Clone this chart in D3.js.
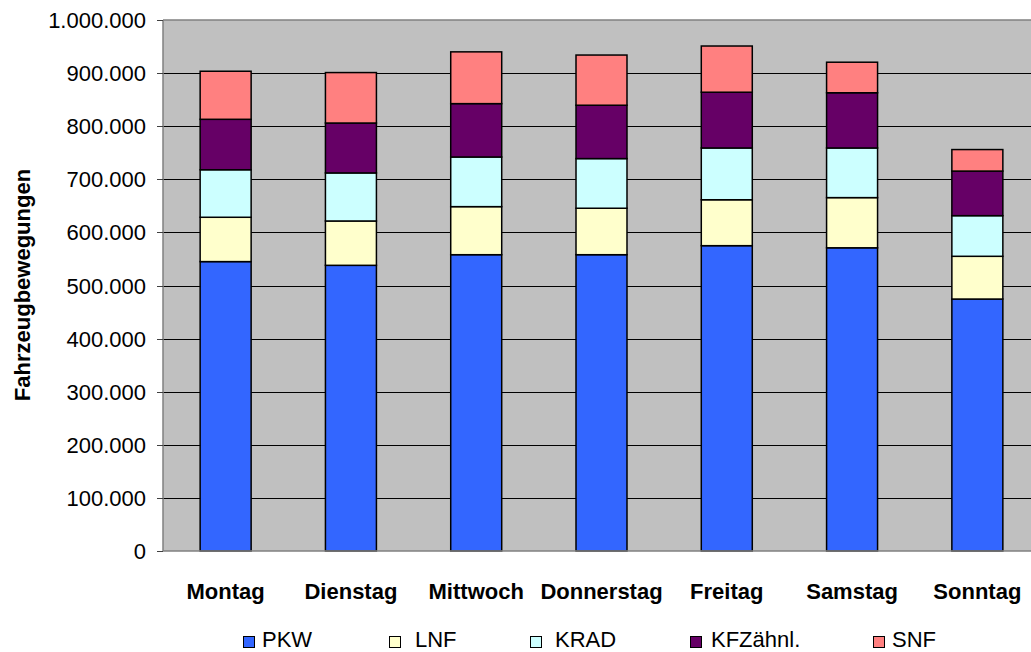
<!DOCTYPE html>
<html>
<head>
<meta charset="utf-8">
<script src="https://cdn.jsdelivr.net/npm/d3@7"></script>
<style>
  html, body { margin: 0; padding: 0; background: #ffffff; }
  svg { display: block; font-family: Arial, "Liberation Sans", sans-serif; }
</style>
</head>
<body>
<svg id="chart" width="1031" height="652"></svg>
<script>
// Wochentage
const days = ["Montag", "Dienstag", "Mittwoch", "Donnerstag", "Freitag", "Samstag", "Sonntag"];

// Fahrzeugbewegungen je Fahrzeugart
const seriesNames = ["PKW", "LNF", "KRAD", "KFZähnl.", "SNF"];
const pkw  = [545000, 538000, 558000, 558000, 575000, 571000, 474500];
const lnf  = [ 83500,  83500,  90500,  87500,  86500,  94500,  80500];
const krad = [ 89500,  90500,  93500,  93500,  97500,  93500,  76500];
const kfz  = [ 95000,  94000, 100500, 100500, 105000, 104000,  84000];
const snf  = [ 90500,  95000,  97500,  94500,  87000,  57500,  40500];

const yTicks = [0, 100000, 200000, 300000, 400000, 500000, 600000, 700000, 800000, 900000, 1000000];
const colors = ["#3366FF", "#FFFFCC", "#CCFFFF", "#660066", "#FF8080"];

const table = days.map((d, i) => ({
  day: d, "PKW": pkw[i], "LNF": lnf[i], "KRAD": krad[i], "KFZähnl.": kfz[i], "SNF": snf[i]
}));
const stacked = d3.stack().keys(seriesNames)(table);

const svg = d3.select("#chart");
const plot = { left: 163, top: 20, right: 1040, bottom: 551 };
const fs = 22;    // font size

const x = d3.scaleBand().domain(days).range([plot.left, plot.right])
  .paddingInner(0.593).paddingOuter(0.2965);
const y = d3.scaleLinear().domain([0, 1000000]).range([plot.bottom, plot.top]);

const de = d3.formatLocale({ decimal: ",", thousands: ".", grouping: [3], currency: ["", " €"] });
const fmt = de.format(",.0f");

// Plotfläche
svg.append("rect")
  .attr("x", plot.left).attr("y", plot.top)
  .attr("width", plot.right - plot.left).attr("height", plot.bottom - plot.top)
  .attr("fill", "#C0C0C0");

// Gitterlinien
svg.append("g").selectAll("line")
  .data(yTicks.filter(t => t > 0 && t < 1000000))
  .join("line")
  .attr("x1", plot.left).attr("x2", plot.right)
  .attr("y1", d => Math.round(y(d)) + 0.5).attr("y2", d => Math.round(y(d)) + 0.5)
  .attr("stroke", "#000").attr("stroke-width", 1);

// Rahmen oben
svg.append("line")
  .attr("x1", plot.left).attr("x2", plot.right)
  .attr("y1", plot.top).attr("y2", plot.top)
  .attr("stroke", "#808080").attr("stroke-width", 1.5);

// Balken
const layer = svg.append("g").selectAll("g")
  .data(stacked)
  .join("g")
  .attr("fill", (d, i) => colors[i]);

layer.selectAll("rect")
  .data(d => d.map(v => ({ v, day: v.data.day })))
  .join("rect")
  .attr("x", d => x(d.day))
  .attr("width", x.bandwidth())
  .attr("y", d => y(d.v[1]))
  .attr("height", d => y(d.v[0]) - y(d.v[1]))
  .attr("stroke", "#000")
  .attr("stroke-width", 1.5);

// Y-Achse
const yAxis = svg.append("g");
yAxis.append("line")
  .attr("x1", plot.left).attr("x2", plot.left)
  .attr("y1", plot.top).attr("y2", plot.bottom)
  .attr("stroke", "#808080").attr("stroke-width", 1.5);
yAxis.selectAll(".tick")
  .data(yTicks)
  .join("line")
  .attr("x1", plot.left - 6).attr("x2", plot.left)
  .attr("y1", d => Math.round(y(d)) + 0.5).attr("y2", d => Math.round(y(d)) + 0.5)
  .attr("stroke", "#404040").attr("stroke-width", 1);
yAxis.selectAll("text")
  .data(yTicks)
  .join("text")
  .attr("x", 146)
  .attr("y", d => y(d) + 8)
  .attr("text-anchor", "end")
  .attr("font-size", fs)
  .attr("fill", "#000")
  .text(d => fmt(d));

// X-Achse
svg.append("line")
  .attr("x1", plot.left).attr("x2", plot.right)
  .attr("y1", plot.bottom).attr("y2", plot.bottom)
  .attr("stroke", "#808080").attr("stroke-width", 1.5);

svg.append("g").selectAll("text")
  .data(days)
  .join("text")
  .attr("x", d => x(d) + x.bandwidth() / 2)
  .attr("y", 599)
  .attr("text-anchor", "middle")
  .attr("font-size", fs)
  .attr("font-weight", "bold")
  .attr("fill", "#000")
  .text(d => d);

// Achsentitel
svg.append("text")
  .attr("transform", "translate(30,285) rotate(-90)")
  .attr("text-anchor", "middle")
  .attr("font-size", fs)
  .attr("font-weight", "bold")
  .attr("fill", "#000")
  .text("Fahrzeugbewegungen");

// Legende
const legendX = [243, 389, 530, 690, 873];
const textX = [262, 415, 555, 711, 892];
const legend = svg.append("g").selectAll("g")
  .data(seriesNames)
  .join("g");
legend.append("rect")
  .attr("x", (d, i) => legendX[i] + 0.5).attr("y", 636.5)
  .attr("width", 11).attr("height", 11)
  .attr("fill", (d, i) => colors[i])
  .attr("stroke", "#000").attr("stroke-width", 1);
legend.append("text")
  .attr("x", (d, i) => textX[i])
  .attr("y", 647)
  .attr("font-size", fs)
  .attr("fill", "#000")
  .text(d => d);
</script>
</body>
</html>
